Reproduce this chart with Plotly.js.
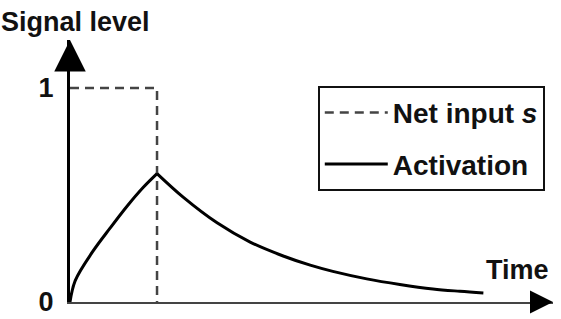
<!DOCTYPE html>
<html>
<head>
<meta charset="utf-8">
<script src="https://cdn.plot.ly/plotly-3.0.1.min.js"></script>
<style>html,body{margin:0;padding:0;background:#fff;}#chart{width:561px;height:319px;}</style>
</head>
<body>
<div id="chart"></div>
<script>
// Net input s: a step to 1 that switches off at t = 1
const inputTime = [0, 1, 1];
const inputLevel = [1, 1, 0];

// Activation: rise while input is on, then decay
const riseTime = [0, 0.06, 0.26, 0.46, 0.66, 0.84, 1.0];
const riseLevel = [0, 0.10, 0.235, 0.345, 0.45, 0.535, 0.60];
const decayTime = [1.0, 1.3, 1.69, 2.07, 2.45, 2.76, 3.02, 3.41, 3.79, 4.17, 4.48, 4.75];
const decayLevel = [0.60, 0.49, 0.37, 0.28, 0.215, 0.172, 0.143, 0.108, 0.082, 0.061, 0.05, 0.042];

const yTickVals = [0, 1];
const yTickText = ['0', '1'];

const FONT = 'Liberation Sans, Arial, sans-serif';
const TXT = '#111';

const traces = [
  {x: inputTime, y: inputLevel, mode: 'lines', name: 'Net input <i>s</i>',
   line: {color: '#444', width: 2.5, dash: '9px,6px'}, legendgroup: 'a', cliponaxis: false},
  {x: riseTime, y: riseLevel, mode: 'lines', name: 'Activation',
   line: {color: '#000', width: 3, shape: 'spline', smoothing: 1}, legendgroup: 'b', cliponaxis: false},
  {x: decayTime, y: decayLevel, mode: 'lines', name: 'Activation', showlegend: false,
   line: {color: '#000', width: 3, shape: 'spline', smoothing: 1}, legendgroup: 'b', cliponaxis: false}
];

const layout = {
  width: 561, height: 319,
  margin: {l: 70, r: 8, t: 40, b: 17},
  paper_bgcolor: '#fff', plot_bgcolor: '#fff',
  font: {family: FONT, color: TXT, size: 28, weight: 'bold'},
  showlegend: true,
  legend: {x: 0.513, y: 0.825, xanchor: 'left', yanchor: 'top',
    bordercolor: '#111', borderwidth: 2, bgcolor: '#fff',
    font: {family: FONT, size: 28, color: TXT, weight: 'bold'},
    tracegroupgap: 12, itemwidth: 63},
  xaxis: {range: [0, 5.55], showgrid: false, zeroline: false, showline: true,
    linecolor: '#444', linewidth: 2, showticklabels: false, ticks: '', fixedrange: true},
  yaxis: {range: [0, 1.224], showgrid: false, zeroline: false, showline: true,
    linecolor: '#000', linewidth: 3, tickvals: yTickVals, ticktext: yTickText,
    ticks: '', ticklabelstandoff: 8,
    tickfont: {family: FONT, size: 27, color: TXT, weight: 'bold'}, fixedrange: true},
  annotations: [
    {text: '', x: 0, y: 1.224, xref: 'x', yref: 'y', ax: 0, ay: 26,
     showarrow: true, arrowhead: 2, arrowsize: 2.1, arrowwidth: 3, arrowcolor: '#000'},
    {text: '', x: 5.55, y: 0, xref: 'x', yref: 'y', ax: -24, ay: 0,
     showarrow: true, arrowhead: 2, arrowsize: 2.3, arrowwidth: 2, arrowcolor: '#000'},
    {text: 'Signal level', xref: 'paper', yref: 'paper', x: -0.148, y: 1.069,
     xanchor: 'left', yanchor: 'middle', showarrow: false,
     font: {family: FONT, size: 27, color: TXT, weight: 'bold'}},
    {text: 'Time', xref: 'paper', yref: 'paper', x: 0.996, y: 0.124,
     xanchor: 'right', yanchor: 'middle', showarrow: false,
     font: {family: FONT, size: 27, color: TXT, weight: 'bold'}}
  ]
};

Plotly.newPlot('chart', traces, layout, {staticPlot: true, displayModeBar: false});
</script>
</body>
</html>
